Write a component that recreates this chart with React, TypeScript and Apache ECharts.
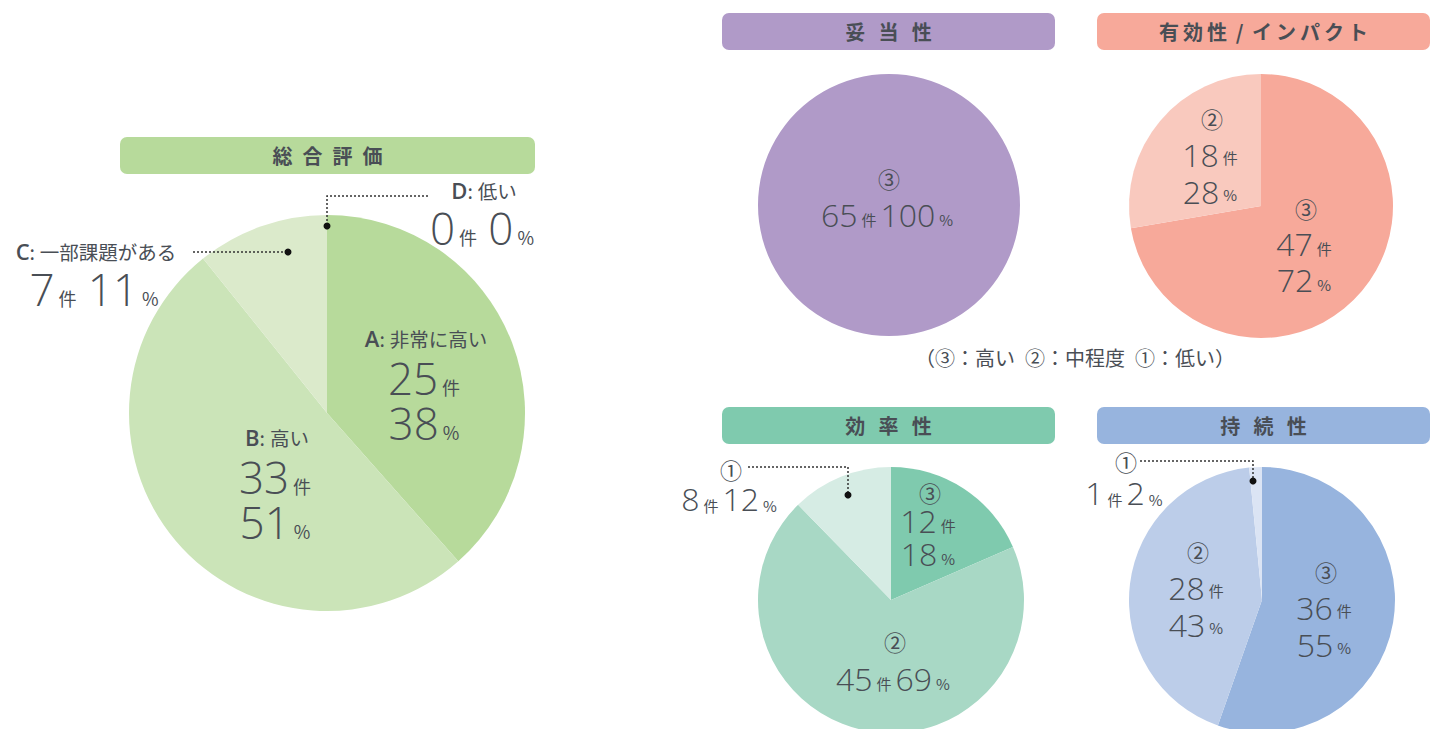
import React, { useEffect, useRef } from 'react';
import * as echarts from 'echarts';

// ---------- data ----------
const overallKeys = ['A', 'B', 'C', 'D'];
const overallLabels = ['非常に高い', '高い', '一部課題がある', '低い'];
const overallValues = [25, 33, 7, 0];

const levelMarks = ['③', '②', '①'];
const relevanceValues = [65];
const impactValues = [47, 18];
const efficiencyValues = [12, 45, 8];
const sustainabilityValues = [36, 28, 1];

const titles = ['総\u2002合\u2002評\u2002価', '妥\u2002\u2006当\u2002\u2006性', '有\u2009効\u2009性\u2009 / \u2009イ\u2009ン\u2009パ\u2009ク\u2009ト', '効\u2002\u2006率\u2002\u2006性', '持\u2002\u2006続\u2002\u2006性'];
const legendText = '（③：高い\u2002②：中程度\u2002①：低い）';
const unitCount = '件';
const unitPct = '%';

// ---------- styles ----------
const overallColors = ['#b7da9b', '#cbe4b8', '#dbeacb', '#dbeacb'];
const relevanceColors = ['#b09ac8'];
const impactColors = ['#f7a99a', '#f9c9be'];
const efficiencyColors = ['#7fcaae', '#a8d8c5', '#d6ece4'];
const sustainabilityColors = ['#97b4de', '#bccde9', '#dbe4f4'];
const titleColors = ['#b7da9b', '#b09ac8', '#f7a99a', '#7fcaae', '#97b4de'];

const TEXT = '#494e55';
const NUM_FONT = '"Open Sans", "Noto Sans CJK JP", sans-serif';
const JP_FONT = '"Noto Sans CJK JP", "Noto Sans", sans-serif';

const pct = (v: number, arr: number[]) => {
  const t = arr.reduce((a, b) => a + b, 0);
  return Math.round((v / t) * 100);
};

function pieSeries(center: number[], radius: number, values: number[], colors: string[], names: string[]) {
  return {
    type: 'pie',
    center,
    radius,
    startAngle: 90,
    clockwise: true,
    silent: true,
    z: 1,
    avoidLabelOverlap: false,
    label: { show: false },
    labelLine: { show: false },
    itemStyle: { borderWidth: 0 },
    emphasis: { disabled: true },
    data: values.map((v, i) => ({ value: v, name: names[i], itemStyle: { color: colors[i] } })),
  };
}

// rich styles for line heights hs
function richFor(big: number, small: number, hs: number[]) {
  const r: any = {};
  const offN = big * 0.38;
  const offU = small * 0.38;
  hs.forEach((h) => {
    const p = Math.max(0, Math.round(h / 2 - small / 2 - offN + offU));
    r['n' + h] = { fontSize: big, fontFamily: NUM_FONT, fontWeight: 300, fill: TEXT, color: TEXT, lineHeight: h, verticalAlign: 'bottom' };
    r['u' + h] = { fontSize: small, fontFamily: JP_FONT, fill: TEXT, color: TEXT, lineHeight: small, verticalAlign: 'bottom', padding: [0, 4, p, 4] };
    r['c' + h] = { fontSize: 22, fontFamily: JP_FONT, fill: TEXT, color: TEXT, lineHeight: h };
    r['k' + h] = { fontSize: 22, fontFamily: NUM_FONT, fontWeight: 600, fill: TEXT, color: TEXT, lineHeight: h };
    r['t' + h] = { fontSize: 19.5, fontFamily: JP_FONT, fill: TEXT, color: TEXT, lineHeight: h };
  });
  return r;
}

// line builders: [content(h) , h]
type Line = [(h: number) => string, number];
const cnt = (v: number): ((h: number) => string) => (h) => `{n${h}|${v}}{u${h}|${unitCount}}`;
const per = (p: number): ((h: number) => string) => (h) => `{n${h}|${p}}{u${h}|${unitPct}}`;
const join = (...fs: ((h: number) => string)[]) => (h: number) => fs.map((f) => f(h)).join('');
const gap = (h: number) => `{n${h}|\u2009}`;
const mark = (m: string) => (h: number) => `{c${h}|${m}}`;
const key = (i: number) => (h: number) => `{k${h}|${overallKeys[i]}}{t${h}|:\u2005${overallLabels[i]}}`;

function group(x: number, firstCenterY: number, big: number, small: number, lines: Line[], align = 'center') {
  const hs = lines.map((l) => l[1]);
  const text = lines.map(([f, h]) => f(h)).join('\n');
  return {
    type: 'text',
    x,
    y: firstCenterY - hs[0] / 2,
    silent: true,
    style: { text, align, verticalAlign: 'top', rich: richFor(big, small, hs), fill: TEXT },
  };
}

function plainText(x: number, y: number, text: string, size: number, weight: any, align = 'center') {
  return {
    type: 'text',
    x,
    y,
    silent: true,
    style: { text, align, verticalAlign: 'middle', fontSize: size, fontFamily: JP_FONT, fontWeight: weight, fill: TEXT },
  };
}

function titleBar(x: number, y: number, w: number, h: number, color: string, text: string) {
  return [
    { type: 'rect', silent: true, shape: { x, y, width: w, height: h, r: 7 }, style: { fill: color } },
    plainText(x + w / 2, y + h / 2, text, 20, 'bold'),
  ];
}

function leader(points: number[][], dot: number[]) {
  return [
    { type: 'polyline', silent: true, shape: { points }, style: { stroke: '#333', lineWidth: 1.5, lineDash: [2, 2], fill: null } },
    { type: 'circle', silent: true, shape: { cx: dot[0], cy: dot[1], r: 3.5 }, style: { fill: '#111' } },
  ];
}

export default function App() {
  const ref = useRef<HTMLDivElement>(null);
  useEffect(() => {
    document.body.style.margin = '0';
    const chart = echarts.init(ref.current!, null, { renderer: 'svg' });
    const ov = overallValues;
    const rv = relevanceValues;
    const iv = impactValues;
    const ev = efficiencyValues;
    const sv = sustainabilityValues;
    const graphics: any[] = [
      ...titleBar(120, 137, 415, 37, titleColors[0], titles[0]),
      ...titleBar(722, 13, 333, 37, titleColors[1], titles[1]),
      ...titleBar(1097, 13, 333, 37, titleColors[2], titles[2]),
      ...titleBar(722, 407, 333, 37, titleColors[3], titles[3]),
      ...titleBar(1097, 407, 333, 37, titleColors[4], titles[4]),

      // overall labels
      group(426, 338, 44, 18, [[key(0), 33], [cnt(ov[0]), 45], [per(pct(ov[0], ov)), 45]]),
      group(277, 437, 44, 18, [[key(1), 33], [cnt(ov[1]), 45], [per(pct(ov[1], ov)), 45]]),
      group(96, 251, 44, 18, [[key(2), 30], [join(cnt(ov[2]), gap, per(pct(ov[2], ov))), 45]]),
      group(484, 190, 44, 18, [[key(3), 30], [join(cnt(ov[3]), gap, per(pct(ov[3], ov))), 45]]),
      ...leader([[193, 252], [288, 252]], [288, 252]),
      ...leader([[428, 196], [327, 196], [327, 226]], [327, 226]),

      // relevance
      group(889, 178, 32, 15, [[mark(levelMarks[0]), 34], [join(cnt(rv[0]), per(pct(rv[0], rv))), 36]]),

      // impact
      group(1212, 118, 32, 15, [[mark(levelMarks[1]), 31], [cnt(iv[1]), 37], [per(pct(iv[1], iv)), 37]]),
      group(1306, 208, 32, 15, [[mark(levelMarks[0]), 32], [cnt(iv[0]), 36], [per(pct(iv[0], iv)), 36]]),

      plainText(1075, 357, legendText, 20, 400),

      // efficiency
      group(930, 492, 32, 15, [[mark(levelMarks[0]), 23], [cnt(ev[0]), 33], [per(pct(ev[0], ev)), 33]]),
      group(895, 641, 32, 15, [[mark(levelMarks[1]), 36], [join(cnt(ev[1]), per(pct(ev[1], ev))), 36]]),
      group(731, 469, 32, 15, [[mark(levelMarks[2]), 28], [join(cnt(ev[2]), per(pct(ev[2], ev))), 32]]),
      ...leader([[748, 467], [848, 467], [848, 495]], [848, 495]),

      // sustainability
      group(1326, 571, 32, 15, [[mark(levelMarks[0]), 31], [cnt(sv[0]), 37], [per(pct(sv[0], sv)), 37]]),
      group(1198, 551, 32, 15, [[mark(levelMarks[1]), 31], [cnt(sv[1]), 37], [per(pct(sv[1], sv)), 37]]),
      group(1126, 461, 32, 15, [[mark(levelMarks[2]), 32], [join(cnt(sv[2]), per(pct(sv[2], sv))), 32]]),
      ...leader([[1140, 461], [1253, 461], [1253, 480]], [1253, 481]),
    ];
    graphics.forEach((g) => { g.z = 100; });

    chart.setOption({
      animation: false,
      backgroundColor: '#ffffff',
      series: [
        pieSeries([327, 413], 198, overallValues, overallColors, overallKeys),
        pieSeries([889, 205], 131, relevanceValues, relevanceColors, ['③']),
        pieSeries([1261, 206], 132, impactValues, impactColors, ['③', '②']),
        pieSeries([891, 600], 133, efficiencyValues, efficiencyColors, ['③', '②', '①']),
        pieSeries([1262, 600], 133, sustainabilityValues, sustainabilityColors, ['③', '②', '①']),
      ],
      graphic: { elements: graphics },
    });
    return () => chart.dispose();
  }, []);
  return <div ref={ref} style={{ width: 1437, height: 729 }} />;
}
